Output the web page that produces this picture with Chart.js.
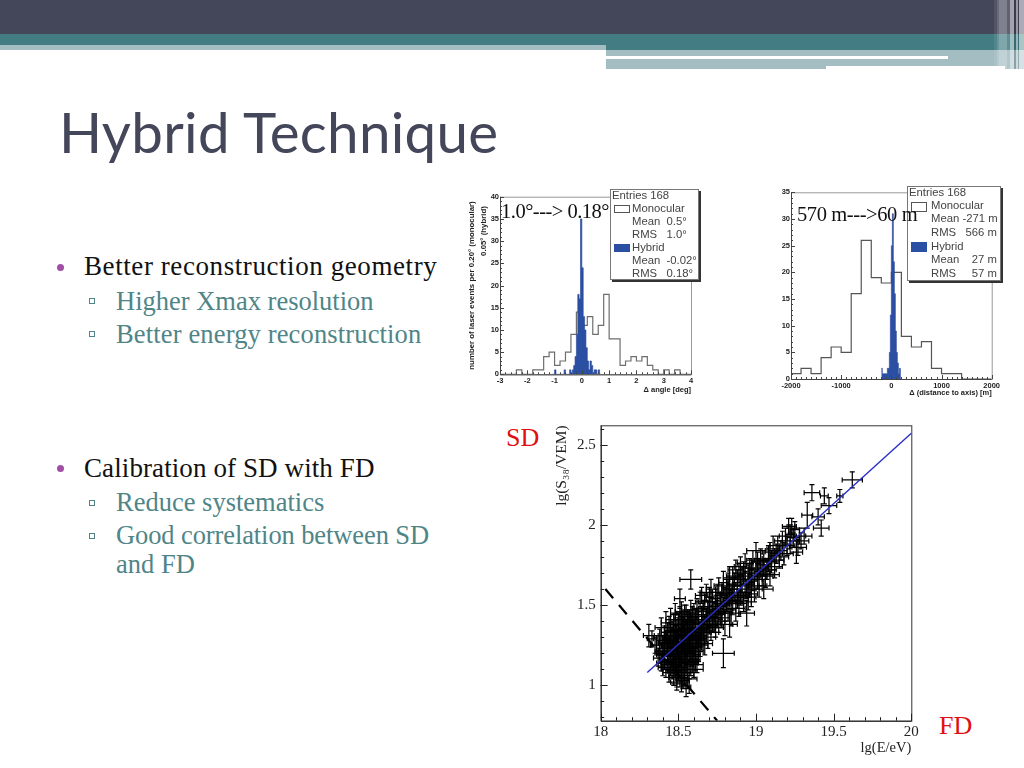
<!DOCTYPE html>
<html><head><meta charset="utf-8">
<script src="https://cdn.jsdelivr.net/npm/chart.js@4"></script>
<style>
html,body{margin:0;padding:0;background:#fff;width:1024px;height:768px;overflow:hidden}
.abs,canvas{position:absolute}
canvas{filter:blur(.4px)}
.t{position:absolute;white-space:nowrap;line-height:1}
.b{font-family:"Liberation Serif",serif;font-size:27px;color:#111}
.s{font-family:"Liberation Serif",serif;font-size:26.5px;color:#4f8587}
.lg{position:absolute;background:#fff;border:1px solid #777;box-shadow:2px 2px 0 #333;box-sizing:border-box}
.l{position:absolute;font:11.3px "Liberation Sans",sans-serif;color:#444;white-space:nowrap;line-height:1;filter:blur(.25px)}
.big{position:absolute;font-family:"Liberation Serif",serif;font-size:20.5px;color:#111;white-space:nowrap;line-height:1;filter:blur(.3px)}
</style></head><body>
<div class="abs" style="left:0;top:0;width:1024px;height:34px;background:#44465a"></div>
<div class="abs" style="left:0;top:34px;width:1024px;height:16px;background:#437c82"></div>
<div class="abs" style="left:0;top:45px;width:606px;height:5px;background:#a3bdc2"></div>
<div class="abs" style="left:606px;top:50px;width:418px;height:19px;background:#a3bdc2"></div>
<div class="abs" style="left:606px;top:56px;width:342px;height:3px;background:#fff"></div>
<div class="abs" style="left:826px;top:66px;width:179px;height:3px;background:#fff"></div>
<div class="abs" style="left:994px;top:0;width:30px;height:69px;background:linear-gradient(90deg,rgba(255,255,255,.08) 0 3px,rgba(255,255,255,.2) 3px 5px,rgba(255,255,255,.32) 5px 13px,rgba(255,255,255,.15) 13px 16px,rgba(255,255,255,.5) 16px 20px,rgba(0,0,0,.15) 20px 22px,rgba(255,255,255,.45) 22px 24px,rgba(0,0,0,.1) 24px 25px,rgba(255,255,255,.55) 25px 30px)"></div>

<div class="t" style="left:59px;top:97px;font:56.5px Lato,sans-serif;color:#44465a;letter-spacing:.3px">Hybrid Technique</div>

<div class="abs" style="left:57px;top:264px;width:7px;height:7px;border-radius:50%;background:#a04ea6"></div>
<div class="t b" style="left:84px;top:253px;letter-spacing:.58px">Better reconstruction geometry</div>
<div class="abs" style="left:89px;top:298px;width:4px;height:4px;border:1px solid #4f8587"></div>
<div class="t s" style="left:116px;top:288px">Higher Xmax resolution</div>
<div class="abs" style="left:89px;top:331px;width:4px;height:4px;border:1px solid #4f8587"></div>
<div class="t s" style="left:116px;top:321px;letter-spacing:.15px">Better energy reconstruction</div>

<div class="abs" style="left:57px;top:465px;width:7px;height:7px;border-radius:50%;background:#a04ea6"></div>
<div class="t b" style="left:84px;top:455px;letter-spacing:.1px">Calibration of SD with FD</div>
<div class="abs" style="left:89px;top:500px;width:4px;height:4px;border:1px solid #4f8587"></div>
<div class="t s" style="left:116px;top:489px">Reduce systematics</div>
<div class="abs" style="left:89px;top:533px;width:4px;height:4px;border:1px solid #4f8587"></div>
<div class="t s" style="left:116px;top:522px;letter-spacing:-.1px">Good correlation between SD</div>
<div class="t s" style="left:116px;top:551px">and FD</div>

<canvas id="c1" width="238" height="214" style="left:462px;top:186px"></canvas>
<canvas id="c2" width="235" height="218" style="left:770px;top:182px"></canvas>
<canvas id="c3" width="380" height="355" style="left:550px;top:405px"></canvas>

<div class="lg" style="left:610px;top:189px;width:89px;height:91px"></div>
<div class="l" style="left:612px;top:190px">Entries 168</div>
<div class="abs" style="left:614px;top:205px;width:16px;height:8px;border:1px solid #555;box-sizing:border-box;background:#fff"></div>
<div class="l" style="left:632px;top:203px">Monocular</div>
<div class="l" style="left:632px;top:216px">Mean&nbsp; 0.5°</div>
<div class="l" style="left:632px;top:229px">RMS&nbsp;&nbsp; 1.0°</div>
<div class="abs" style="left:614px;top:244px;width:16px;height:8px;background:#2b4fa3"></div>
<div class="l" style="left:632px;top:242px">Hybrid</div>
<div class="l" style="left:632px;top:255px">Mean&nbsp; -0.02°</div>
<div class="l" style="left:632px;top:268px">RMS&nbsp;&nbsp; 0.18°</div>

<div class="lg" style="left:907px;top:186px;width:94px;height:95px"></div>
<div class="l" style="left:909px;top:187px">Entries 168</div>
<div class="abs" style="left:911px;top:202px;width:16px;height:10px;border:1px solid #555;box-sizing:border-box;background:#fff"></div>
<div class="l" style="left:931px;top:200px">Monocular</div>
<div class="l" style="left:931px;top:213px">Mean -271 m</div>
<div class="l" style="left:931px;top:227px">RMS&nbsp;&nbsp; 566 m</div>
<div class="abs" style="left:911px;top:242px;width:16px;height:10px;background:#2b4fa3"></div>
<div class="l" style="left:931px;top:241px">Hybrid</div>
<div class="l" style="left:931px;top:254px">Mean&nbsp;&nbsp;&nbsp; 27 m</div>
<div class="l" style="left:931px;top:268px">RMS&nbsp;&nbsp;&nbsp;&nbsp; 57 m</div>

<div class="big" style="left:501px;top:201px;letter-spacing:-.5px">1.0°---&gt; 0.18°</div>
<div class="big" style="left:797px;top:204px;letter-spacing:-.4px">570 m---&gt;60 m</div>

<div class="t" style="left:506px;top:423px;font:26px 'Liberation Serif',serif;color:#e01010">SD</div>
<div class="t" style="left:939px;top:711px;font:26px 'Liberation Serif',serif;color:#e01010">FD</div>

<script>
// ----- Histogram 1: angle
const angleMonoStart = -3, angleMonoBin = 0.2;
const angleMono = [0,0,0,1,0,0,1,1,4,5,2,3,5,9,14,11,13,9,11,18,8,8,2,3,4,3,4,2,1,0,1,0,1,0,0];
const angleHybStart = -1.1, angleHybBin = 0.05;
const angleHyb = [0,0,1,0,0,0,0,0,0,1,0,0,0,1,0,1,2,4,9,18,17,35,24,13,10,6,3,1,3,2,0,1,1,0,1,0];
const angleXTicks = [-3,-2,-1,0,1,2,3,4];
const angleYTicks = [0,5,10,15,20,25,30,35,40];
// ----- Histogram 2: distance
const distMonoStart = -2000, distMonoBin = 200;
const distMono = [1,2,1,4,6,5,16,26,19,18,20,8,6,7,2,1,1,0,0,0];
const distHybStart = -200, distHybBin = 20;
const distHyb = [2,1,1,1,1,1,2,2,5,12,25,31,22,16,9,5,3,1,2,0];
const distXTicks = [-2000,-1000,0,1000,2000];
const distYTicks = [0,5,10,15,20,25,30,35];
// ----- Calibration scatter
const calX = [
18.36,18.37,18.38,18.38,18.39,18.39,18.40,18.40,18.40,18.41,
18.41,18.41,18.42,18.42,18.42,18.43,18.43,18.43,18.43,18.44,
18.44,18.44,18.44,18.45,18.45,18.45,18.45,18.45,18.46,18.46,
18.46,18.46,18.46,18.47,18.47,18.47,18.47,18.47,18.47,18.48,
18.48,18.48,18.48,18.48,18.49,18.49,18.49,18.49,18.49,18.49,
18.50,18.50,18.50,18.50,18.50,18.50,18.51,18.51,18.51,18.51,
18.51,18.51,18.52,18.52,18.52,18.52,18.52,18.52,18.53,18.53,
18.53,18.53,18.53,18.53,18.54,18.54,18.54,18.54,18.54,18.55,
18.55,18.55,18.55,18.55,18.55,18.56,18.56,18.56,18.56,18.56,
18.57,18.57,18.57,18.57,18.57,18.58,18.58,18.58,18.58,18.58,
18.59,18.59,18.59,18.59,18.60,18.60,18.60,18.60,18.60,18.61,
18.61,18.61,18.61,18.62,18.62,18.62,18.62,18.63,18.63,18.63,
18.63,18.64,18.64,18.64,18.65,18.65,18.65,18.65,18.66,18.66,
18.66,18.67,18.67,18.67,18.68,18.68,18.68,18.69,18.69,18.69,
18.70,18.70,18.70,18.71,18.71,18.71,18.72,18.72,18.72,18.73,
18.73,18.74,18.74,18.74,18.75,18.75,18.75,18.76,18.76,18.77,
18.77,18.78,18.78,18.79,18.79,18.79,18.80,18.80,18.80,18.81,
18.81,18.82,18.82,18.83,18.83,18.83,18.84,18.84,18.85,18.85,
18.85,18.86,18.86,18.87,18.87,18.88,18.88,18.88,18.89,18.89,
18.90,18.90,18.90,18.91,18.91,18.92,18.92,18.93,18.93,18.94,
18.94,18.95,18.95,18.96,18.96,18.97,18.97,18.98,18.98,18.99,
19.00,19.00,19.01,19.01,19.02,19.02,19.03,19.04,19.05,19.05,
19.06,19.07,19.08,19.09,19.09,19.10,19.11,19.12,19.12,19.13,
19.14,19.15,19.16,19.17,19.18,19.19,19.20,19.21,19.22,19.22,
19.23,19.24,19.25,19.26,19.27,19.28,19.29,19.31,19.33,19.36,
19.40,19.42,19.44,19.47,19.54,19.62,18.31,18.33,18.35,18.51,
18.58,18.57,18.55,18.53,18.60,18.62,18.52,18.47,18.49,18.54,
18.40,18.42,18.44,18.46,18.48,18.50,18.52,18.54,18.56,18.58,
18.41,18.43,18.45,18.47,18.49,18.51,18.53,18.55,18.57,18.59,
18.44,18.46,18.48,18.50,18.52,18.54,18.56,18.58,18.60,18.62];
const calY = [
1.25,1.17,1.29,1.21,1.14,1.36,1.26,1.19,1.11,1.31,
1.22,1.15,1.39,1.27,1.10,1.33,1.20,1.13,1.24,1.29,
1.18,1.08,1.36,1.23,1.30,1.15,1.11,1.41,1.26,1.19,
1.33,1.09,1.14,1.28,1.21,1.38,1.17,1.06,1.25,1.31,
1.16,1.23,1.44,1.11,1.27,1.35,1.19,1.13,1.05,1.30,
1.22,1.38,1.15,1.29,1.09,1.34,1.26,1.18,1.42,1.12,
1.32,1.04,1.24,1.37,1.20,1.46,1.14,1.29,1.27,1.10,
1.35,1.19,1.41,1.23,1.31,1.16,1.08,1.26,1.39,1.21,
1.44,1.33,1.12,1.28,1.18,1.37,1.24,1.06,1.30,1.15,
1.35,1.22,1.40,1.28,1.10,1.32,1.18,1.26,1.47,1.38,
1.29,1.42,1.21,1.14,1.35,1.27,1.45,1.19,1.38,1.31,
1.24,1.41,1.16,1.36,1.48,1.28,1.33,1.21,1.43,1.39,
1.30,1.35,1.25,1.52,1.44,1.38,1.29,1.56,1.41,1.33,
1.48,1.37,1.26,1.52,1.42,1.34,1.58,1.46,1.40,1.30,
1.49,1.37,1.55,1.43,1.33,1.60,1.47,1.40,1.52,1.38,
1.45,1.54,1.42,1.36,1.49,1.58,1.44,1.40,1.62,1.51,
1.46,1.56,1.42,1.20,1.50,1.64,1.55,1.45,1.38,1.60,
1.52,1.47,1.62,1.57,1.38,1.67,1.53,1.45,1.60,1.68,
1.52,1.58,1.63,1.72,1.48,1.55,1.66,1.60,1.70,1.51,
1.62,1.56,1.74,1.66,1.58,1.52,1.70,1.63,1.76,1.45,
1.60,1.68,1.55,1.73,1.62,1.57,1.70,1.66,1.78,1.60,
1.84,1.72,1.68,1.77,1.62,1.73,1.78,1.70,1.60,1.75,
1.68,1.72,1.79,1.83,1.69,1.77,1.85,1.78,1.74,1.82,
1.87,1.80,1.84,1.90,1.82,1.93,1.87,1.99,1.94,1.90,
1.99,1.92,1.97,1.83,1.86,1.93,1.90,1.93,2.06,2.20,
2.05,1.98,2.18,2.12,2.18,2.28,1.31,1.29,1.25,1.54,
1.66,1.04,0.99,1.03,1.10,1.13,1.01,1.05,1.02,1.45,
1.20,1.24,1.20,1.23,1.20,1.27,1.21,1.34,1.20,1.23,
1.28,1.16,1.33,1.13,1.24,1.16,1.30,1.25,1.16,1.34,
1.25,1.29,1.34,1.12,1.31,1.21,1.41,1.14,1.24,1.24];
const calXErr = [
.03,.03,.04,.03,.03,.04,.03,.04,.03,.04,
.04,.03,.03,.05,.03,.04,.03,.04,.03,.03,
.03,.04,.03,.04,.05,.03,.04,.03,.03,.04,
.04,.03,.05,.03,.04,.03,.04,.03,.04,.03,
.03,.05,.03,.04,.03,.04,.03,.03,.05,.04,
.04,.03,.04,.03,.05,.04,.03,.04,.03,.03,
.03,.03,.05,.04,.03,.04,.03,.04,.04,.03,
.04,.03,.03,.05,.04,.03,.04,.03,.04,.05,
.03,.04,.05,.03,.04,.03,.05,.04,.03,.04,
.03,.04,.03,.05,.04,.04,.03,.05,.04,.03,
.05,.03,.04,.03,.04,.05,.03,.04,.04,.03,
.05,.04,.03,.04,.03,.05,.04,.03,.05,.04,
.03,.04,.05,.03,.04,.05,.03,.04,.04,.05,
.03,.04,.05,.04,.03,.05,.04,.03,.04,.05,
.04,.05,.03,.04,.05,.03,.04,.05,.03,.04,
.05,.03,.04,.05,.03,.04,.05,.04,.03,.05,
.03,.04,.05,.07,.04,.03,.05,.04,.05,.03,
.06,.05,.04,.06,.05,.04,.05,.06,.05,.04,
.06,.05,.04,.05,.06,.04,.05,.06,.04,.05,
.05,.06,.04,.05,.06,.05,.04,.06,.05,.05,
.06,.04,.05,.05,.06,.04,.05,.06,.04,.05,
.06,.05,.06,.04,.05,.06,.04,.05,.06,.05,
.05,.06,.04,.05,.06,.05,.04,.06,.05,.04,
.05,.06,.04,.05,.06,.04,.05,.04,.03,.05,
.03,.04,.03,.04,.055,.04,.05,.05,.035,.05,
.04,.05,.025,.05,.02,.065,.035,.03,.03,.035,
.07,.05,.03,.04,.06,.04,.03,.03,.04,.05,
.04,.03,.05,.03,.04,.03,.05,.04,.03,.04,
.03,.05,.03,.04,.05,.03,.04,.03,.05,.03,
.04,.03,.04,.05,.03,.04,.03,.05,.04,.03];
const calYErr = [
.06,.05,.06,.07,.05,.06,.05,.07,.05,.06,
.06,.05,.07,.06,.05,.06,.07,.05,.06,.05,
.05,.06,.07,.05,.06,.06,.05,.07,.06,.05,
.07,.05,.06,.06,.05,.07,.06,.05,.06,.07,
.06,.05,.07,.06,.05,.06,.07,.05,.06,.05,
.05,.07,.06,.05,.06,.07,.05,.06,.07,.06,
.06,.05,.07,.06,.05,.06,.07,.06,.05,.06,
.07,.05,.06,.06,.07,.05,.08,.06,.05,.07,
.06,.05,.06,.07,.05,.06,.06,.08,.05,.07,
.05,.06,.07,.05,.06,.07,.05,.06,.06,.05,
.06,.07,.05,.06,.05,.07,.06,.05,.06,.07,
.05,.06,.07,.05,.06,.07,.05,.06,.05,.07,
.06,.05,.07,.06,.05,.06,.07,.05,.06,.07,
.05,.06,.07,.05,.06,.07,.05,.06,.05,.07,
.06,.05,.06,.07,.05,.06,.05,.07,.06,.05,
.07,.06,.05,.06,.07,.05,.06,.07,.05,.06,
.05,.07,.06,.09,.05,.07,.06,.05,.07,.06,
.06,.07,.08,.06,.08,.07,.06,.08,.07,.06,
.08,.06,.07,.06,.08,.07,.06,.07,.06,.08,
.07,.06,.06,.08,.07,.06,.07,.08,.06,.08,
.06,.07,.08,.06,.07,.08,.06,.07,.06,.08,
.05,.07,.08,.06,.07,.06,.07,.08,.06,.07,
.07,.06,.08,.06,.07,.07,.08,.06,.07,.06,
.06,.07,.06,.06,.07,.05,.06,.05,.06,.05,
.05,.06,.05,.07,.05,.05,.05,.05,.08,.05,
.05,.05,.05,.05,.04,.05,.07,.05,.05,.06,
.06,.09,.06,.05,.05,.05,.05,.05,.05,.05,
.07,.05,.06,.05,.06,.07,.05,.06,.05,.07,
.05,.07,.06,.05,.06,.05,.07,.05,.06,.05,
.06,.05,.07,.06,.05,.07,.05,.06,.07,.05];
const fitX = [18.3,20], fitY = [1.08,2.57];
const cutX = [18.03,18.75], cutY = [1.6,0.78];
const calXTicks = [18,18.5,19,19.5,20];
const calYTicks = [1,1.5,2,2.5];

function stepData(start,bin,vals){
  const pts = vals.map((v,i)=>({x:start+i*bin,y:v}));
  pts.push({x:start+vals.length*bin,y:0});
  return pts;
}
function range(a,b,s){const r=[];const n=Math.round((b-a)/s);for(let i=0;i<=n;i++)r.push(a+i*s);return r;}

const framePlugin = {
  id:'frame',
  afterDatasetsDraw(chart,args,o){
    const {ctx,chartArea:a,scales:{x,y}} = chart;
    ctx.save();ctx.lineWidth=1;
    ctx.strokeStyle=o.faint;
    ctx.strokeRect(a.left+.5,a.top+.5,a.right-a.left,a.bottom-a.top);
    ctx.strokeStyle=o.color;
    ctx.beginPath();
    ctx.moveTo(a.left+.5,a.top);ctx.lineTo(a.left+.5,a.bottom+.5);ctx.lineTo(a.right,a.bottom+.5);
    const tx=(v,l)=>{const p=Math.round(x.getPixelForValue(v))+.5;ctx.moveTo(p,a.bottom);ctx.lineTo(p,a.bottom-l);};
    const ty=(v,l)=>{const p=Math.round(y.getPixelForValue(v))+.5;ctx.moveTo(a.left,p);ctx.lineTo(a.left+l,p);};
    o.xMinor.forEach(v=>tx(v,o.minorLen));o.xMajor.forEach(v=>tx(v,o.majorLen));
    o.yMinor.forEach(v=>ty(v,o.minorLen));o.yMajor.forEach(v=>ty(v,o.majorLen));
    ctx.stroke();ctx.restore();
  }
};

function axis(o){
  return {
    type:'linear',min:o.min,max:o.max,
    grid:{display:false,drawTicks:false},border:{display:false},
    afterBuildTicks(s){s.ticks=o.ticks.map(v=>({value:v}));},
    afterFit(s){ if(o.w!==undefined) s.width=o.w; if(o.h!==undefined) s.height=o.h; },
    ticks:{autoSkip:false,maxRotation:0,minRotation:0,padding:o.tickPad,color:o.color,font:o.font,
      callback:v=>String(v)},
    title:{display:!!o.title,text:o.title||'',align:o.titleAlign,color:o.color,font:o.titleFont,padding:o.titlePad}
  };
}
const lsans = {family:'"Liberation Sans"',size:7.5,weight:'bold'};

new Chart(document.getElementById('c1'),{
  type:'scatter',plugins:[framePlugin],
  data:{datasets:[
    {data:stepData(angleHybStart,angleHybBin,angleHyb),showLine:true,stepped:'before',pointRadius:0,
     borderColor:'#26479a',borderWidth:.6,fill:'origin',backgroundColor:'#2b4fa3',order:1},
    {data:stepData(angleMonoStart,angleMonoBin,angleMono),showLine:true,stepped:'before',pointRadius:0,
     borderColor:'#6e6e6e',borderWidth:1.2,fill:false,order:2}
  ]},
  options:{responsive:false,animation:false,events:[],
    layout:{padding:{left:0,top:10.7,right:9,bottom:0}},
    plugins:{legend:{display:false},tooltip:{enabled:false},
      frame:{color:'#444',faint:'#999',xMajor:angleXTicks,xMinor:range(-3,4,0.2),yMajor:angleYTicks,yMinor:range(0,40,1),majorLen:4,minorLen:2}},
    scales:{
      x:axis({min:-3,max:4,ticks:angleXTicks,h:25.7,tickPad:2,color:'#222',font:lsans,
        title:'Δ angle [deg]',titleAlign:'end',titleFont:lsans,titlePad:{top:1,bottom:6}}),
      y:axis({min:0,max:40,ticks:angleYTicks,w:38,tickPad:1,color:'#222',font:lsans,
        title:['number of laser events per 0.20° (monocular)','\u00a0'.repeat(50)+'0.05° (hybrid)'],titleAlign:'center',
        titleFont:{family:'"Liberation Sans"',size:7.85,weight:'bold',lineHeight:1.5},titlePad:{top:4,bottom:2}})
    }}
});

new Chart(document.getElementById('c2'),{
  type:'scatter',plugins:[framePlugin],
  data:{datasets:[
    {data:stepData(distHybStart,distHybBin,distHyb),showLine:true,stepped:'before',pointRadius:0,
     borderColor:'#26479a',borderWidth:.6,fill:'origin',backgroundColor:'#2b4fa3',order:1},
    {data:stepData(distMonoStart,distMonoBin,distMono),showLine:true,stepped:'before',pointRadius:0,
     borderColor:'#555',borderWidth:1.2,fill:false,order:2}
  ]},
  options:{responsive:false,animation:false,events:[],
    layout:{padding:{left:0,top:10.3,right:13.3,bottom:0}},
    plugins:{legend:{display:false},tooltip:{enabled:false},
      frame:{color:'#444',faint:'#999',xMajor:distXTicks,xMinor:range(-2000,2000,100),yMajor:distYTicks,yMinor:range(0,35,1),majorLen:4,minorLen:2}},
    scales:{
      x:axis({min:-2000,max:2000,ticks:distXTicks,h:21,tickPad:2,color:'#222',font:lsans,
        title:'Δ (distance to axis) [m]',titleAlign:'end',titleFont:lsans,titlePad:{top:0,bottom:3}}),
      y:axis({min:0,max:35,ticks:distYTicks,w:21,tickPad:1,color:'#222',font:lsans})
    }}
});

const hArms=[],vArms=[];
calX.forEach((cx,i)=>{
  const cy=calY[i],ex=calXErr[i],ey=calYErr[i];
  hArms.push({x:cx-ex,y:cy},{x:cx+ex,y:cy},{x:NaN,y:NaN});
  vArms.push({x:cx,y:cy-ey},{x:cx,y:cy+ey},{x:NaN,y:NaN});
});
new Chart(document.getElementById('c3'),{
  type:'scatter',plugins:[framePlugin],
  data:{datasets:[
    {data:fitX.map((v,i)=>({x:v,y:fitY[i]})),showLine:true,pointRadius:0,borderColor:'#2a2fc8',borderWidth:1.4,order:1},
    {data:cutX.map((v,i)=>({x:v,y:cutY[i]})),showLine:true,pointRadius:0,borderColor:'#000',borderWidth:2.2,borderDash:[12,9],order:4},
    {data:hArms,showLine:true,borderColor:'#000',borderWidth:1.25,pointStyle:'line',rotation:90,pointRadius:2.5,pointBorderColor:'#000',pointBorderWidth:1.2,order:2},
    {data:vArms,showLine:true,borderColor:'#000',borderWidth:1.25,pointStyle:'line',rotation:0,pointRadius:2.5,pointBorderColor:'#000',pointBorderWidth:1.2,order:3}
  ]},
  options:{responsive:false,animation:false,events:[],
    layout:{padding:{left:0,top:20.3,right:18.7,bottom:0}},
    plugins:{legend:{display:false},tooltip:{enabled:false},
      frame:{color:'#222',faint:'#333',xMajor:calXTicks,xMinor:range(18,20,0.1),yMajor:calYTicks,yMinor:range(0.8,2.6,0.1),majorLen:7,minorLen:3.5}},
    scales:{
      x:axis({min:18,max:20,ticks:calXTicks,h:39.3,tickPad:2,color:'#222',font:{family:'"Liberation Serif"',size:15},
        title:'lg(E/eV)',titleAlign:'end',titleFont:{family:'"Liberation Serif"',size:14.5},titlePad:{top:2,bottom:3}}),
      y:axis({min:0.78,max:2.62,ticks:calYTicks,w:50.7,tickPad:5,color:'#222',font:{family:'"Liberation Serif"',size:15},
        title:'lg(S₃₈/VEM)',titleAlign:'end',titleFont:{family:'"Liberation Serif"',size:15.5},titlePad:{top:3,bottom:1}})
    }}
});
</script>
</body></html>
